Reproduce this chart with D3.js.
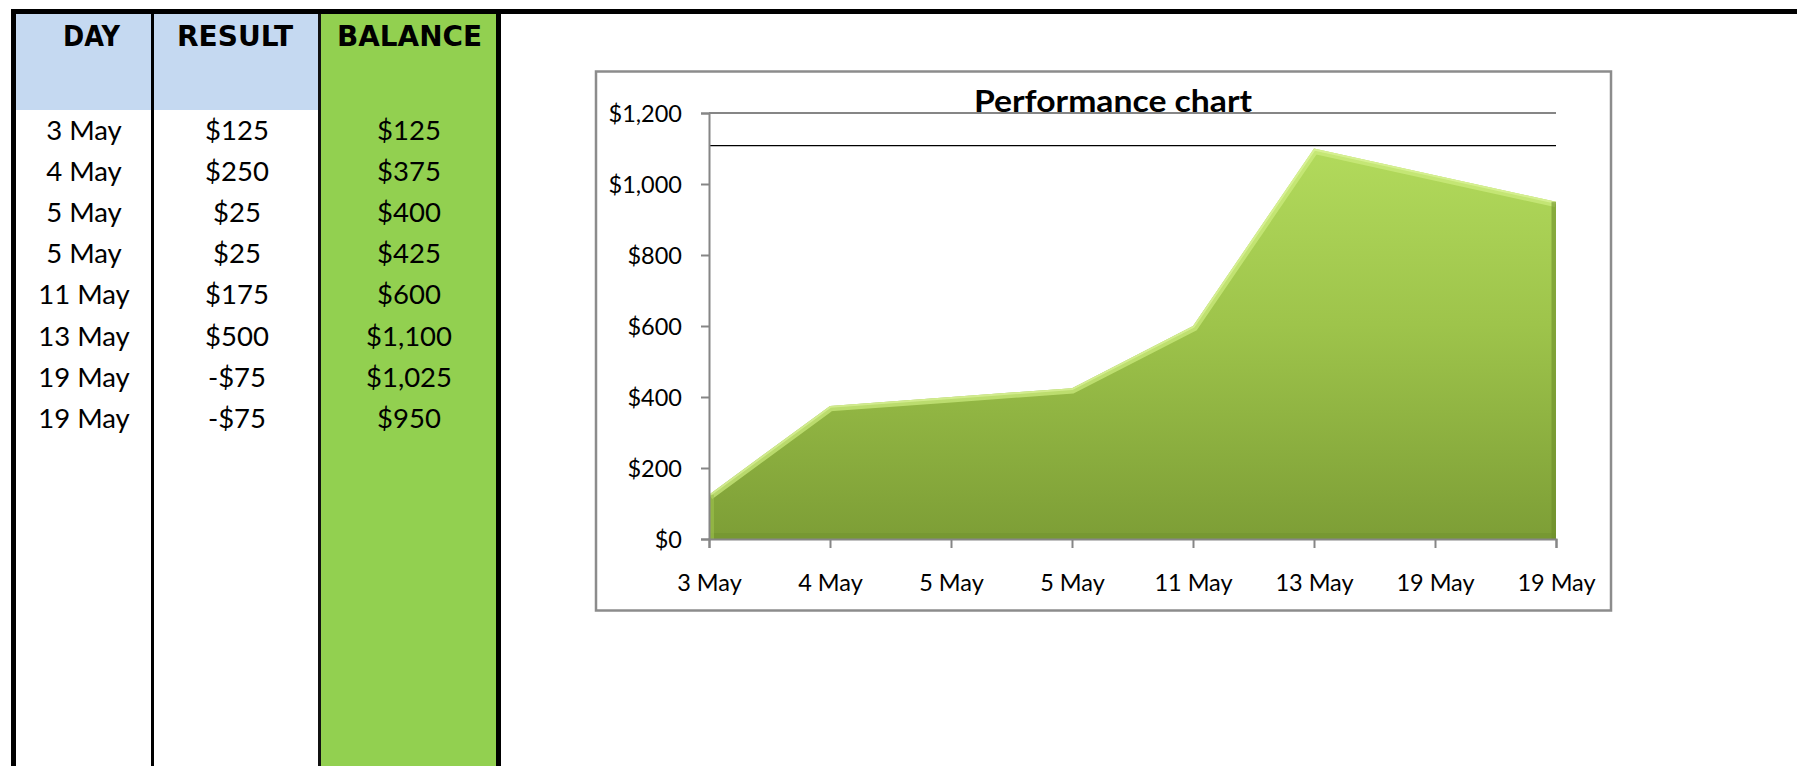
<!DOCTYPE html>
<html>
<head>
<meta charset="utf-8">
<script src="https://cdn.jsdelivr.net/npm/d3@7"></script>
<style>
  html, body { margin: 0; padding: 0; background: #ffffff; }
  svg { display: block; }
</style>
</head>
<body>
<svg id="chart" width="1797" height="766"></svg>
<script>
// ---------------- data ----------------
const headers = ["DAY", "RESULT", "BALANCE"];
const days = ["3 May", "4 May", "5 May", "5 May", "11 May", "13 May", "19 May", "19 May"];
const results = [125, 250, 25, 25, 175, 500, -75, -75];
const balance = [125, 375, 400, 425, 600, 1100, 1025, 950];
const yTicks = [0, 200, 400, 600, 800, 1000, 1200];
const refLine = [1108];
const chartTitle = "Performance chart";

// ---------------- setup ----------------
const svg = d3.select("#chart");
const loc = d3.formatLocale({decimal: ".", thousands: ",", grouping: [3], currency: ["$", ""], minus: "-"});
const money = loc.format("$,");

// ---------------- table ----------------
const tbl = svg.append("g");
const BOTTOM = 766;
tbl.append("rect").attr("x", 16).attr("y", 14).attr("width", 302).attr("height", 96).attr("fill", "#c5d9f1");
tbl.append("rect").attr("x", 318).attr("y", 14).attr("width", 178).attr("height", BOTTOM - 14).attr("fill", "#92d050");
// borders
tbl.append("rect").attr("x", 11).attr("y", 9).attr("width", 1786).attr("height", 5).attr("fill", "#000");
tbl.append("rect").attr("x", 11).attr("y", 9).attr("width", 5).attr("height", BOTTOM - 9).attr("fill", "#000");
tbl.append("rect").attr("x", 151).attr("y", 14).attr("width", 3).attr("height", BOTTOM - 14).attr("fill", "#000");
tbl.append("rect").attr("x", 318).attr("y", 14).attr("width", 3).attr("height", BOTTOM - 14).attr("fill", "#111");
tbl.append("rect").attr("x", 496).attr("y", 9).attr("width", 5).attr("height", BOTTOM - 9).attr("fill", "#000");

const headX = [91.5, 235, 409.5];
const headW = [57, 116, 145];
tbl.selectAll("text.head").data(headers).join("text")
  .attr("class", "head")
  .attr("x", (d, i) => headX[i]).attr("y", 46)
  .attr("text-anchor", "middle")
  .attr("textLength", (d, i) => headW[i])
  .attr("lengthAdjust", "spacingAndGlyphs")
  .style("font-family", "'DejaVu Sans', sans-serif")
  .style("font-weight", "bold")
  .style("font-size", "28px")
  .attr("fill", "#000")
  .text(d => d);

const colX = [84, 237, 409];
const rowY = i => 139.5 + i * 41.2;
const cellStyle = sel => sel
  .attr("text-anchor", "middle")
  .style("font-family", "Lato, 'Open Sans', sans-serif")
  .style("font-size", "27.5px")
  .attr("fill", "#000");

tbl.selectAll("text.day").data(days).join("text").attr("class", "day")
  .attr("x", colX[0]).attr("y", (d, i) => rowY(i)).call(cellStyle).text(d => d);
tbl.selectAll("text.res").data(results).join("text").attr("class", "res")
  .attr("x", colX[1]).attr("y", (d, i) => rowY(i)).call(cellStyle).text(d => money(d));
tbl.selectAll("text.bal").data(balance).join("text").attr("class", "bal")
  .attr("x", colX[2]).attr("y", (d, i) => rowY(i)).call(cellStyle).text(d => money(d));

// ---------------- chart ----------------
const ch = svg.append("g");
ch.append("rect").attr("x", 596).attr("y", 71.5).attr("width", 1015).attr("height", 539)
  .attr("fill", "#fff").attr("stroke", "#8c8c8c").attr("stroke-width", 2.5);

const x = d3.scalePoint().domain(d3.range(days.length)).range([709, 1556]);
const y = d3.scaleLinear().domain([0, 1200]).range([539, 113]);

// top gridline
ch.append("line").attr("x1", 709).attr("x2", 1556).attr("y1", y(1200)).attr("y2", y(1200))
  .attr("stroke", "#868686").attr("stroke-width", 2);

// gradient
const defs = svg.append("defs");
const grad = defs.append("linearGradient").attr("id", "areaGrad")
  .attr("gradientUnits", "userSpaceOnUse")
  .attr("x1", 0).attr("x2", 0).attr("y1", y(d3.max(balance))).attr("y2", y(0));
grad.append("stop").attr("offset", "0%").attr("stop-color", "#b2da5c");
grad.append("stop").attr("offset", "45%").attr("stop-color", "#9ec44b");
grad.append("stop").attr("offset", "100%").attr("stop-color", "#7d9e36");

const area = d3.area().x((d, i) => x(i)).y0(y(0)).y1(d => y(d));
const line = d3.line().x((d, i) => x(i)).y(d => y(d));

defs.append("clipPath").attr("id", "areaClip").append("path").attr("d", area(balance));

ch.append("path").attr("d", area(balance)).attr("fill", "url(#areaGrad)");
const bevel = ch.append("g").attr("clip-path", "url(#areaClip)");
bevel.append("path").attr("d", line(balance)).attr("fill", "none")
  .attr("stroke", "#cdec80").attr("stroke-width", 11).attr("stroke-opacity", 0.7)
  .attr("stroke-linejoin", "miter");
bevel.append("path").attr("d", line(balance)).attr("fill", "none")
  .attr("stroke", "#e4f8a8").attr("stroke-width", 4).attr("stroke-opacity", 0.55);
bevel.append("line").attr("x1", x(days.length - 1)).attr("x2", x(days.length - 1))
  .attr("y1", y(balance[balance.length - 1])).attr("y2", y(0))
  .attr("stroke", "#6a8a28").attr("stroke-width", 9).attr("stroke-opacity", 0.55);
bevel.append("line").attr("x1", x(0)).attr("x2", x(days.length - 1))
  .attr("y1", y(0)).attr("y2", y(0))
  .attr("stroke", "#6f8e2c").attr("stroke-width", 12).attr("stroke-opacity", 0.4);
bevel.append("line").attr("x1", x(0)).attr("x2", x(0))
  .attr("y1", y(balance[0])).attr("y2", y(0))
  .attr("stroke", "#9cc24c").attr("stroke-width", 10).attr("stroke-opacity", 0.6);

// reference line
ch.selectAll("line.ref").data(refLine).join("line").attr("class", "ref")
  .attr("x1", 709).attr("x2", 1556).attr("y1", d => y(d)).attr("y2", d => y(d))
  .attr("stroke", "#000").attr("stroke-width", 1.3);

// axes
const yAxis = ch.append("g").attr("transform", "translate(709,0)")
  .call(d3.axisLeft(y).tickValues(yTicks).tickSize(8).tickPadding(19).tickFormat(d => money(d)));
const xAxis = ch.append("g").attr("transform", `translate(0,${y(0)})`)
  .call(d3.axisBottom(x).tickSize(9).tickFormat(i => days[i]));
[yAxis, xAxis].forEach(a => {
  a.select(".domain").attr("stroke", "#868686").attr("stroke-width", 2);
  a.selectAll(".tick line").attr("stroke", "#868686").attr("stroke-width", 2);
  a.selectAll("text").attr("fill", "#000")
    .style("font-family", "Lato, 'Open Sans', sans-serif").style("font-size", "23.5px");
});
yAxis.selectAll("text").attr("dy", "0.36em");
xAxis.selectAll("text").attr("y", 51.5).attr("dy", 0);

// title
ch.append("text").attr("x", 1113).attr("y", 112)
  .attr("text-anchor", "middle")
  .style("font-family", "Lato, 'Open Sans', sans-serif")
  .style("font-weight", "bold").style("font-size", "31px")
  .attr("textLength", 278).attr("lengthAdjust", "spacingAndGlyphs")
  .attr("fill", "#000").text(chartTitle);
</script>
</body>
</html>
